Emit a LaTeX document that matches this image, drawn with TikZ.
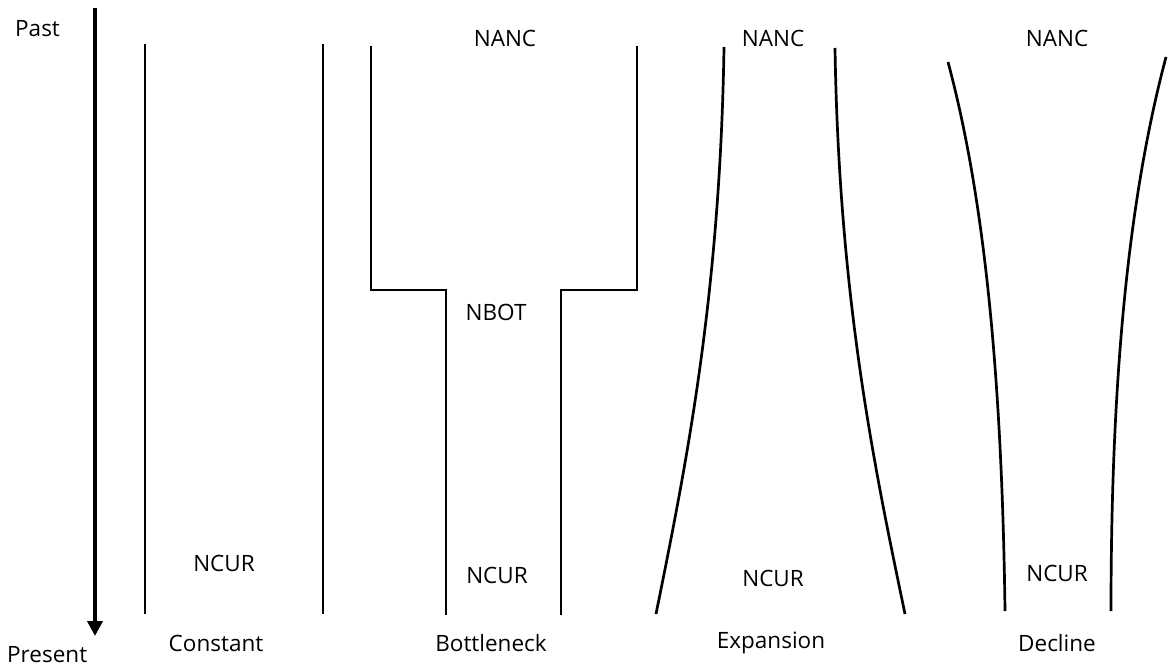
\documentclass[tikz,border=0pt]{standalone}
\usepackage{fontspec}
\setmainfont{Open Sans}
\usetikzlibrary{arrows.meta}
\begin{document}
\begin{tikzpicture}[x=1pt,y=-1pt,
  wall/.style={line width=2.7pt, line join=miter},
  lbl/.style={font=\fontsize{22.5}{26}\selectfont, inner sep=0pt},
  axislbl/.style={font=\fontsize{22.5}{26}\selectfont, inner sep=0pt}]
\useasboundingbox (0,0) rectangle (1170,671);
% time axis
\coordinate (ta) at (95,8);
\coordinate (tb) at (95,636);
\draw[line width=4.5pt,-{Triangle[length=15pt,width=15pt]}] (ta) -- (tb);
\node[axislbl,anchor=west] (past) at (15,29) {Past};
\node[axislbl,anchor=west] (present) at (7,655) {Present};
% Constant
\coordinate (c1a) at (145,44); \coordinate (c1b) at (145,614);
\coordinate (c2a) at (323,44); \coordinate (c2b) at (323,614);
\draw[wall] (c1a) -- (c1b);
\draw[wall] (c2a) -- (c2b);
\node[lbl] (cncur) at (224,563) {NCUR};
\node[lbl] (cname) at (216,643) {Constant};
% Bottleneck
\coordinate (b1) at (371,46); \coordinate (b2) at (371,290); \coordinate (b3) at (446,290); \coordinate (b4) at (446,615);
\coordinate (b5) at (637,46); \coordinate (b6) at (637,290); \coordinate (b7) at (561,290); \coordinate (b8) at (561,615);
\draw[wall] (b1) -- (b2) -- (b3) -- (b4);
\draw[wall] (b5) -- (b6) -- (b7) -- (b8);
\node[lbl] (banc) at (505,38) {NANC};
\node[lbl] (bbot) at (496,312) {NBOT};
\node[lbl] (bncur) at (497,575) {NCUR};
\node[lbl] (bname) at (491,643) {Bottleneck};
% Expansion
\coordinate (e1a) at (724,47); \coordinate (e1b) at (656,614);
\coordinate (e2a) at (835,48); \coordinate (e2b) at (905,614);
\draw[wall] (e1a) .. controls (720,300) and (685,470) .. (e1b);
\draw[wall] (e2a) .. controls (839,300) and (875,470) .. (e2b);
\node[lbl] (eanc) at (773,38) {NANC};
\node[lbl] (encur) at (773,578) {NCUR};
\node[lbl] (ename) at (771,643) {Expansion};
% Decline
\coordinate (d1a) at (948,62); \coordinate (d1b) at (1005,611);
\coordinate (d2a) at (1166,57); \coordinate (d2b) at (1111,611);
\draw[wall] (d1a) .. controls (985,200) and (1002,380) .. (d1b);
\draw[wall] (d2a) .. controls (1128,200) and (1111,380) .. (d2b);
\node[lbl] (danc) at (1057,38) {NANC};
\node[lbl] (dncur) at (1057,573) {NCUR};
\node[lbl] (dname) at (1057,643) {Decline};
\end{tikzpicture}
\end{document}
